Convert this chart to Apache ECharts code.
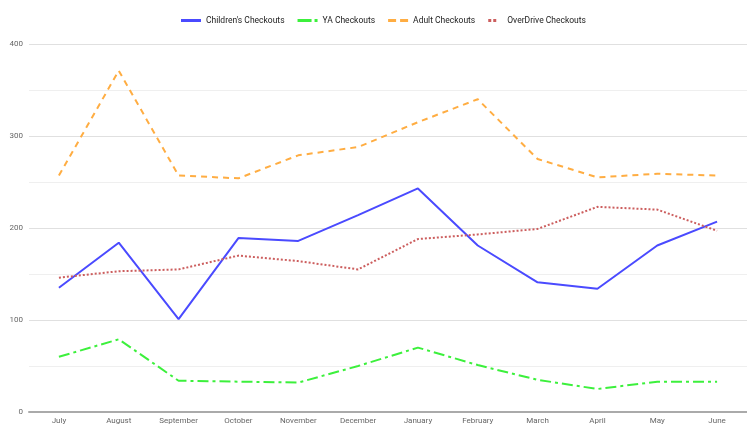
<!DOCTYPE html>
<html>
<head>
<meta charset="utf-8">
<script src="https://cdn.jsdelivr.net/npm/echarts@6/dist/echarts.min.js"></script>
<style>
  html, body { margin: 0; padding: 0; background: #fff; }
  #chart { width: 747px; height: 427px; }
</style>
</head>
<body>
<div id="chart"></div>
<script>
// months of the fiscal year
var months = ['July', 'August', 'September', 'October', 'November', 'December',
  'January', 'February', 'March', 'April', 'May', 'June'];

// checkout counts
var childrens = [135, 184, 101, 189, 186, 214, 243, 181, 141, 134, 181, 207];
var youngAdult = [60, 79, 34, 33, 32, 50, 70, 51, 35, 25, 33, 33];
var adult = [257, 371, 257, 254, 279, 288, 315, 340, 275, 255, 259, 257];
var overDrive = [146, 153, 155, 170, 164, 155, 188, 193, 199, 223, 220, 197];

var font = 'Roboto, "Liberation Sans", sans-serif';

var myChart = echarts.init(document.getElementById('chart'));

function line(name, data, color, dash, width) {
  return {
    name: name,
    type: 'line',
    data: data,
    symbol: 'none',
    lineStyle: { color: color, width: width, type: dash },
    itemStyle: { color: color }
  };
}

myChart.setOption({
  animation: false,
  textStyle: { fontFamily: font },
  legend: {
    top: 11,
    left: 176,
    itemGap: 13,
    itemWidth: 20,
    itemHeight: 3,
    textStyle: { fontSize: 8.5, color: '#222' },
    data: [
      { name: "Children's Checkouts", icon: 'path://M0,0H20V3H0Z' },
      { name: 'YA Checkouts', icon: 'path://M0,0H14V3H0Z M17,0H20V3H17Z' },
      { name: 'Adult Checkouts', icon: 'path://M0,0H8V3H0Z M12,0H20V3H12Z' },
      { name: 'OverDrive Checkouts', icon: 'path://M0,0H3V3H0Z M5,0H8V3H5Z' }
    ]
  },
  grid: { left: 29, right: -7, top: 44, bottom: 15 },
  xAxis: {
    type: 'category',
    data: months,
    boundaryGap: true,
    axisTick: { show: false },
    axisLine: { lineStyle: { color: '#aaa', width: 2 } },
    axisLabel: { fontSize: 8, color: '#666', margin: 5 }
  },
  yAxis: {
    type: 'value',
    min: 0,
    max: 400,
    interval: 50,
    axisLine: { show: false },
    axisTick: { show: false },
    axisLabel: {
      fontSize: 8,
      color: '#666',
      margin: 6,
      formatter: function (v) { return v % 100 === 0 ? v : ''; }
    },
    splitLine: { lineStyle: { color: ['#e0e0e0', '#efefef'], width: 1 } }
  },
  series: [
    line("Children's Checkouts", childrens, '#4a4aff', 'solid', 2),
    line('YA Checkouts', youngAdult, '#3cf03c', [11, 4, 3, 4], 2),
    line('Adult Checkouts', adult, '#ffad42', [6, 5], 2),
    line('OverDrive Checkouts', overDrive, '#cc5e5e', [2, 2], 2)
  ]
});
</script>
</body>
</html>
